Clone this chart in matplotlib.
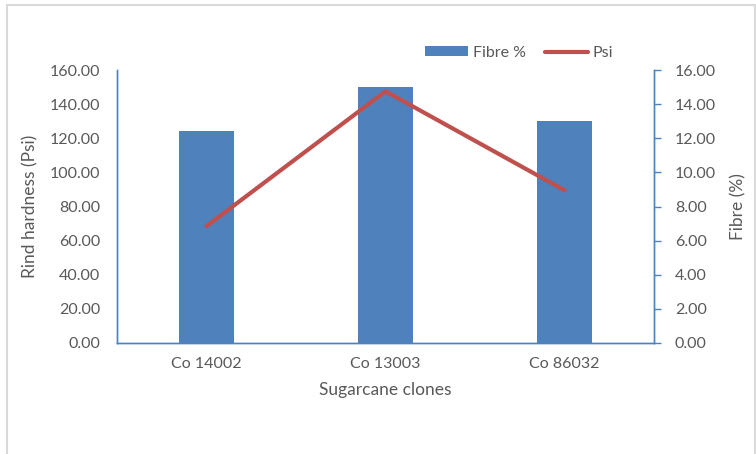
# Rind hardness vs fibre content of sugarcane clones
# combo chart: fibre bars (right axis) + hardness line (left axis)

import matplotlib.pyplot as plt
from matplotlib.patches import Rectangle

# ------------------------------------------
# DATA
# ------------------------------------------

clones = ["Co 14002", "Co 13003", "Co 86032"]
fibre_pct = [12.45, 15.0, 13.0]
rind_psi = [68.5, 147.5, 89.5]

left_ticks = [0, 20, 40, 60, 80, 100, 120, 140, 160]
right_ticks = [0, 2, 4, 6, 8, 10, 12, 14, 16]

BLUE = "#4F81BD"
RED = "#C0504D"
TEXT = "#595959"

plt.rcParams["font.family"] = ["Lato", "DejaVu Sans"]

# ------------------------------------------
# FIGURE
# ------------------------------------------

fig = plt.figure(figsize=(7.56, 4.54), dpi=100)
ax = fig.add_axes([117 / 756, 1 - 343 / 454, (654 - 117) / 756, (343 - 70) / 454])
ax2 = ax.twinx()

# light grey chart frame
fig.add_artist(Rectangle((7 / 756, -0.2), (755 - 7) / 756, 1.2 - 5 / 454,
                         transform=fig.transFigure, fill=False,
                         edgecolor="#D9D9D9", linewidth=1.5))

x = list(range(len(clones)))

bars = ax2.bar(x, fibre_pct, width=0.31, color=BLUE, label="Fibre %")
line, = ax.plot(x, rind_psi, color=RED, linewidth=3, label="Psi",
                solid_capstyle="round")

# line axis drawn above the bars
ax.set_zorder(ax2.get_zorder() + 1)
ax.patch.set_visible(False)

ax.set_xlim(-0.5, 2.5)
ax.set_ylim(0, 160)
ax2.set_ylim(0, 16)
ax.set_yticks(left_ticks)
ax2.set_yticks(right_ticks)
ax.set_yticklabels([f"{v:.2f}" for v in left_ticks])
ax2.set_yticklabels([f"{v:.2f}" for v in right_ticks])
ax.set_xticks(x)
ax.set_xticklabels(clones)

for a in (ax, ax2):
    a.spines["top"].set_visible(False)
    for s in ("left", "right", "bottom"):
        a.spines[s].set_color(BLUE)
        a.spines[s].set_linewidth(1)

ax.tick_params(axis="y", length=0, pad=12, labelsize=11.5, labelcolor=TEXT)
ax.tick_params(axis="x", length=0, pad=10, labelsize=11.5, labelcolor=TEXT)
ax2.tick_params(axis="y", length=5, width=1, color=BLUE, pad=10,
                labelsize=11.5, labelcolor=TEXT)

ax.set_ylabel("Rind hardness (Psi)", fontsize=12.5, color=TEXT, labelpad=8)
ax2.set_ylabel("Fibre (%)", fontsize=12.5, color=TEXT, labelpad=10)
ax.set_xlabel("Sugarcane clones", fontsize=12.5, color=TEXT, labelpad=8)

fig.legend(handles=[bars, line], labels=["Fibre %", "Psi"], ncol=2,
           loc="center", bbox_to_anchor=(519 / 756, 1 - 53 / 454),
           frameon=False, fontsize=11.5, labelcolor=TEXT,
           handlelength=2.7, handleheight=0.6, handletextpad=0.3,
           columnspacing=1.2)

fig.savefig("out.png", dpi=100)
